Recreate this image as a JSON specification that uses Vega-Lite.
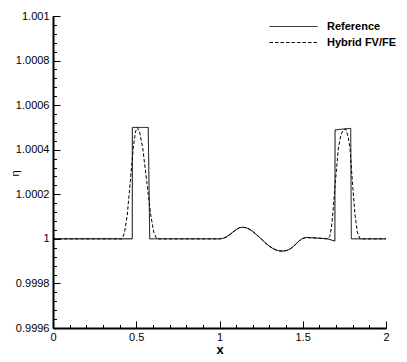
{
  "$schema": "https://vega.github.io/schema/vega-lite/v6.json",
  "width": 333,
  "height": 312,
  "autosize": "none",
  "padding": {"left": 53, "top": 16, "right": 21, "bottom": 34},
  "background": "white",
  "config": {
    "view": {"stroke": null},
    "axis": {
      "labelFont": "Liberation Sans",
      "labelFontSize": 11,
      "labelColor": "black",
      "labelOverlap": false,
      "labelFlush": false,
      "domainColor": "black",
      "domainWidth": 2,
      "tickColor": "black",
      "tickWidth": 1,
      "grid": false,
      "titleFont": "Liberation Sans",
      "titleColor": "black"
    }
  },
  "data": {
    "values": [
      {"series": "Reference", "x": 0, "y": 1.0},
      {"series": "Reference", "x": 0.476, "y": 1.0},
      {"series": "Reference", "x": 0.4765, "y": 1.0005},
      {"series": "Reference", "x": 0.572, "y": 1.0005},
      {"series": "Reference", "x": 0.581, "y": 1.0},
      {"series": "Reference", "x": 1.0, "y": 1.0},
      {"series": "Reference", "x": 1.02, "y": 1.000002},
      {"series": "Reference", "x": 1.04, "y": 1.000008},
      {"series": "Reference", "x": 1.06, "y": 1.000018},
      {"series": "Reference", "x": 1.08, "y": 1.00003},
      {"series": "Reference", "x": 1.1, "y": 1.000042},
      {"series": "Reference", "x": 1.12, "y": 1.00005},
      {"series": "Reference", "x": 1.14, "y": 1.000052},
      {"series": "Reference", "x": 1.16, "y": 1.00005},
      {"series": "Reference", "x": 1.18, "y": 1.000043},
      {"series": "Reference", "x": 1.2, "y": 1.000033},
      {"series": "Reference", "x": 1.22, "y": 1.00002},
      {"series": "Reference", "x": 1.24, "y": 1.000007},
      {"series": "Reference", "x": 1.26, "y": 0.999993},
      {"series": "Reference", "x": 1.28, "y": 0.999979},
      {"series": "Reference", "x": 1.3, "y": 0.999967},
      {"series": "Reference", "x": 1.32, "y": 0.999957},
      {"series": "Reference", "x": 1.34, "y": 0.99995},
      {"series": "Reference", "x": 1.36, "y": 0.999946},
      {"series": "Reference", "x": 1.38, "y": 0.999945},
      {"series": "Reference", "x": 1.4, "y": 0.999947},
      {"series": "Reference", "x": 1.42, "y": 0.999953},
      {"series": "Reference", "x": 1.44, "y": 0.999963},
      {"series": "Reference", "x": 1.46, "y": 0.999978},
      {"series": "Reference", "x": 1.48, "y": 0.999992},
      {"series": "Reference", "x": 1.5, "y": 1.000002},
      {"series": "Reference", "x": 1.52, "y": 1.000006},
      {"series": "Reference", "x": 1.55, "y": 1.000005},
      {"series": "Reference", "x": 1.6, "y": 1.000003},
      {"series": "Reference", "x": 1.65, "y": 1.0},
      {"series": "Reference", "x": 1.693, "y": 0.99999},
      {"series": "Reference", "x": 1.694, "y": 1.000489},
      {"series": "Reference", "x": 1.788, "y": 1.000496},
      {"series": "Reference", "x": 1.792, "y": 1.0},
      {"series": "Reference", "x": 2.0, "y": 1.0},
      {"series": "Hybrid FV/FE", "x": 0, "y": 1.0},
      {"series": "Hybrid FV/FE", "x": 0.416, "y": 1.0},
      {"series": "Hybrid FV/FE", "x": 0.43, "y": 1.00003},
      {"series": "Hybrid FV/FE", "x": 0.446, "y": 1.000107},
      {"series": "Hybrid FV/FE", "x": 0.464, "y": 1.000257},
      {"series": "Hybrid FV/FE", "x": 0.482, "y": 1.000407},
      {"series": "Hybrid FV/FE", "x": 0.495, "y": 1.00048},
      {"series": "Hybrid FV/FE", "x": 0.506, "y": 1.0005},
      {"series": "Hybrid FV/FE", "x": 0.52, "y": 1.00048},
      {"series": "Hybrid FV/FE", "x": 0.539, "y": 1.000407},
      {"series": "Hybrid FV/FE", "x": 0.563, "y": 1.000257},
      {"series": "Hybrid FV/FE", "x": 0.587, "y": 1.000107},
      {"series": "Hybrid FV/FE", "x": 0.605, "y": 1.00003},
      {"series": "Hybrid FV/FE", "x": 0.623, "y": 1.0},
      {"series": "Hybrid FV/FE", "x": 1.0, "y": 1.0},
      {"series": "Hybrid FV/FE", "x": 1.02, "y": 1.000002},
      {"series": "Hybrid FV/FE", "x": 1.04, "y": 1.000008},
      {"series": "Hybrid FV/FE", "x": 1.06, "y": 1.000018},
      {"series": "Hybrid FV/FE", "x": 1.08, "y": 1.00003},
      {"series": "Hybrid FV/FE", "x": 1.1, "y": 1.000042},
      {"series": "Hybrid FV/FE", "x": 1.12, "y": 1.00005},
      {"series": "Hybrid FV/FE", "x": 1.14, "y": 1.000052},
      {"series": "Hybrid FV/FE", "x": 1.16, "y": 1.00005},
      {"series": "Hybrid FV/FE", "x": 1.18, "y": 1.000043},
      {"series": "Hybrid FV/FE", "x": 1.2, "y": 1.000033},
      {"series": "Hybrid FV/FE", "x": 1.22, "y": 1.00002},
      {"series": "Hybrid FV/FE", "x": 1.24, "y": 1.000007},
      {"series": "Hybrid FV/FE", "x": 1.26, "y": 0.999993},
      {"series": "Hybrid FV/FE", "x": 1.28, "y": 0.999979},
      {"series": "Hybrid FV/FE", "x": 1.3, "y": 0.999967},
      {"series": "Hybrid FV/FE", "x": 1.32, "y": 0.999957},
      {"series": "Hybrid FV/FE", "x": 1.34, "y": 0.99995},
      {"series": "Hybrid FV/FE", "x": 1.36, "y": 0.999946},
      {"series": "Hybrid FV/FE", "x": 1.38, "y": 0.999945},
      {"series": "Hybrid FV/FE", "x": 1.4, "y": 0.999947},
      {"series": "Hybrid FV/FE", "x": 1.42, "y": 0.999953},
      {"series": "Hybrid FV/FE", "x": 1.44, "y": 0.999963},
      {"series": "Hybrid FV/FE", "x": 1.46, "y": 0.999978},
      {"series": "Hybrid FV/FE", "x": 1.48, "y": 0.999992},
      {"series": "Hybrid FV/FE", "x": 1.5, "y": 1.000002},
      {"series": "Hybrid FV/FE", "x": 1.52, "y": 1.000006},
      {"series": "Hybrid FV/FE", "x": 1.55, "y": 1.000005},
      {"series": "Hybrid FV/FE", "x": 1.6, "y": 1.000003},
      {"series": "Hybrid FV/FE", "x": 1.65, "y": 1.0},
      {"series": "Hybrid FV/FE", "x": 1.662, "y": 1.00001},
      {"series": "Hybrid FV/FE", "x": 1.672, "y": 1.00005},
      {"series": "Hybrid FV/FE", "x": 1.68, "y": 1.000107},
      {"series": "Hybrid FV/FE", "x": 1.696, "y": 1.000257},
      {"series": "Hybrid FV/FE", "x": 1.714, "y": 1.000407},
      {"series": "Hybrid FV/FE", "x": 1.73, "y": 1.00047},
      {"series": "Hybrid FV/FE", "x": 1.745, "y": 1.00049},
      {"series": "Hybrid FV/FE", "x": 1.758, "y": 1.000493},
      {"series": "Hybrid FV/FE", "x": 1.772, "y": 1.00046},
      {"series": "Hybrid FV/FE", "x": 1.784, "y": 1.000407},
      {"series": "Hybrid FV/FE", "x": 1.798, "y": 1.000257},
      {"series": "Hybrid FV/FE", "x": 1.814, "y": 1.000107},
      {"series": "Hybrid FV/FE", "x": 1.828, "y": 1.00003},
      {"series": "Hybrid FV/FE", "x": 1.844, "y": 1.0},
      {"series": "Hybrid FV/FE", "x": 2.0, "y": 1.0}
    ]
  },
  "layer": [
    {
      "mark": {"type": "line", "color": "black", "strokeWidth": 1, "clip": true},
      "encoding": {
        "x": {
          "field": "x", "type": "quantitative",
          "scale": {"domain": [0, 2], "nice": false, "zero": false},
          "axis": {
            "values": [0, 0.5, 1, 1.5, 2], "format": "~g",
            "tickSize": -7, "labelPadding": 10,
            "title": "x", "titleFontSize": 13, "titleFontWeight": "bold",
            "titleY": 21, "titleBaseline": "middle"
          }
        },
        "y": {
          "field": "y", "type": "quantitative",
          "scale": {"domain": [0.9996, 1.001], "nice": false, "zero": false},
          "axis": {
            "values": [0.9996, 0.9998, 1, 1.0002, 1.0004, 1.0006, 1.0008, 1.001],
            "format": ".4~f",
            "tickSize": -7, "labelPadding": 11,
            "title": "η", "titleFontSize": 11, "titleFontWeight": "normal",
            "titleX": -38, "titleY": 157, "titleBaseline": "middle", "titleAngle": -90
          }
        },
        "strokeDash": {
          "field": "series", "type": "nominal",
          "scale": {"domain": ["Reference", "Hybrid FV/FE"], "range": [[1, 0], [3.5, 2]]},
          "legend": {
            "orient": "none", "legendX": 235, "legendY": 5, "title": null,
            "symbolType": "M-4.8,0H4.8", "symbolSize": 100,
            "symbolStrokeColor": "black", "symbolStrokeWidth": 1,
            "labelOffset": 28, "labelFont": "Liberation Sans", "labelFontSize": 11,
            "labelFontWeight": "bold", "labelColor": "black",
            "rowPadding": 4, "padding": 0
          }
        }
      }
    },
    {
      "mark": {"type": "point", "opacity": 0},
      "encoding": {
        "x": {
          "field": "x", "type": "quantitative",
          "axis": {
            "orient": "bottom",
            "values": [0, 0.1, 0.2, 0.3, 0.4, 0.5, 0.6, 0.7, 0.8, 0.9, 1, 1.1, 1.2, 1.3, 1.4, 1.5, 1.6, 1.7, 1.8, 1.9, 2],
            "labels": false, "domain": false, "tickSize": -3.5, "title": null
          }
        },
        "y": {
          "field": "y", "type": "quantitative",
          "axis": {
            "orient": "left",
            "values": [0.9996, 0.99964, 0.99968, 0.99972, 0.99976, 0.9998, 0.99984, 0.99988, 0.99992, 0.99996, 1, 1.00004, 1.00008, 1.00012, 1.00016, 1.0002, 1.00024, 1.00028, 1.00032, 1.00036, 1.0004, 1.00044, 1.00048, 1.00052, 1.00056, 1.0006, 1.00064, 1.00068, 1.00072, 1.00076, 1.0008, 1.00084, 1.00088, 1.00092, 1.00096, 1.001],
            "labels": false, "domain": false, "tickSize": -3.5, "title": null
          }
        }
      }
    }
  ],
  "resolve": {"axis": {"x": "independent", "y": "independent"}}
}
